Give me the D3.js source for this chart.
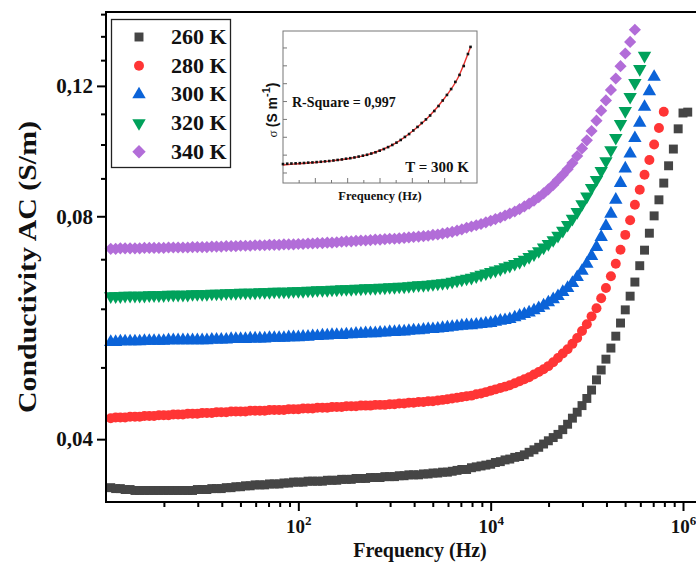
<!DOCTYPE html>
<html>
<head>
<meta charset="utf-8">
<script src="https://cdn.jsdelivr.net/npm/d3@7/dist/d3.min.js"></script>
<style>
  html, body { margin: 0; padding: 0; background: #fff; }
  svg { display: block; font-family: "Liberation Serif", "Times New Roman", serif; }
</style>
</head>
<body>
<svg id="chart" width="696" height="563"></svg>
<script>
// measurement frequencies (Hz), shared by every temperature
const freq = [
  1.12, 1.26, 1.41, 1.58, 1.78, 2.00, 2.24, 2.51, 2.82, 3.16, 3.55, 3.98, 4.47, 5.01, 5.62, 6.31, 7.08, 7.94, 8.91, 10,
  11.2, 12.6, 14.1, 15.8, 17.8, 20.0, 22.4, 25.1, 28.2, 31.6, 35.5, 39.8, 44.7, 50.1, 56.2, 63.1, 70.8, 79.4, 89.1, 100,
  112, 126, 141, 158, 178, 200, 224, 251, 282, 316, 355, 398, 447, 501, 562, 631, 708, 794, 891, 1000,
  1120, 1260, 1410, 1580, 1780, 2000, 2240, 2510, 2820, 3160, 3550, 3980, 4470, 5010, 5620, 6310, 7080, 7940, 8910, 10000,
  11200, 12600, 14100, 15800, 17800, 20000, 22400, 25100, 28200, 31600, 35500, 39800, 44700, 50100, 56200, 63100, 70800, 79400, 89100, 100000,
  112000, 126000, 141000, 158000, 178000, 200000, 224000, 251000, 282000, 316000, 355000, 398000, 447000, 501000, 562000, 631000, 708000, 794000, 891000, 1000000,
  1120000
];

// AC conductivity (S/m) per temperature
const sigma260 = [
  0.0344, 0.0343, 0.0343, 0.0342, 0.0342, 0.0341, 0.0341, 0.0341, 0.0341, 0.0341,
  0.0341, 0.0341, 0.0341, 0.0341, 0.0341, 0.0341, 0.0341, 0.0341, 0.0342, 0.0342,
  0.0342, 0.0343, 0.0343, 0.0343, 0.0344, 0.0344, 0.0345, 0.0345, 0.0346, 0.0346,
  0.0347, 0.0347, 0.0347, 0.0348, 0.0348, 0.0348, 0.0349, 0.0349, 0.0350, 0.0350,
  0.0350, 0.0351, 0.0351, 0.0351, 0.0351, 0.0352, 0.0352, 0.0352, 0.0353, 0.0353,
  0.0353, 0.0354, 0.0354, 0.0354, 0.0355, 0.0355, 0.0355, 0.0356, 0.0356, 0.0356,
  0.0357, 0.0357, 0.0358, 0.0358, 0.0358, 0.0359, 0.0359, 0.0360, 0.0360, 0.0361,
  0.0361, 0.0362, 0.0363, 0.0364, 0.0364, 0.0366, 0.0367, 0.0368, 0.0369, 0.0370,
  0.0372, 0.0373, 0.0375, 0.0376, 0.0378, 0.0379, 0.0381, 0.0384, 0.0387, 0.0390,
  0.0394, 0.0398, 0.0402, 0.0406, 0.0412, 0.0419, 0.0427, 0.0435, 0.0444, 0.0454,
  0.0466, 0.0481, 0.0496, 0.0513, 0.0531, 0.0551, 0.0574, 0.0598, 0.0624, 0.0652,
  0.0686, 0.0720, 0.0759, 0.0801, 0.0842, 0.0887, 0.0936, 0.0986, 0.1050, 0.1103,
  0.1106
];
const sigma280 = [
  0.0427, 0.0428, 0.0428, 0.0428, 0.0429, 0.0429, 0.0429, 0.0430, 0.0430, 0.0430,
  0.0431, 0.0431, 0.0431, 0.0432, 0.0432, 0.0432, 0.0433, 0.0433, 0.0433, 0.0434,
  0.0434, 0.0434, 0.0435, 0.0435, 0.0435, 0.0436, 0.0436, 0.0436, 0.0436, 0.0437,
  0.0437, 0.0437, 0.0437, 0.0438, 0.0438, 0.0438, 0.0438, 0.0439, 0.0439, 0.0439,
  0.0440, 0.0440, 0.0440, 0.0441, 0.0441, 0.0441, 0.0442, 0.0442, 0.0442, 0.0443,
  0.0443, 0.0443, 0.0444, 0.0444, 0.0444, 0.0445, 0.0445, 0.0445, 0.0446, 0.0446,
  0.0447, 0.0447, 0.0448, 0.0448, 0.0449, 0.0449, 0.0450, 0.0450, 0.0451, 0.0452,
  0.0453, 0.0454, 0.0455, 0.0456, 0.0457, 0.0458, 0.0460, 0.0461, 0.0463, 0.0465,
  0.0467, 0.0469, 0.0471, 0.0473, 0.0476, 0.0479, 0.0482, 0.0485, 0.0489, 0.0493,
  0.0497, 0.0502, 0.0508, 0.0515, 0.0522, 0.0529, 0.0538, 0.0548, 0.0560, 0.0572,
  0.0586, 0.0601, 0.0620, 0.0640, 0.0664, 0.0690, 0.0721, 0.0755, 0.0790, 0.0829,
  0.0869, 0.0910, 0.0953, 0.1000, 0.1053, 0.1107
];
const sigma300 = [
  0.0541, 0.0541, 0.0542, 0.0542, 0.0542, 0.0542, 0.0542, 0.0543, 0.0543, 0.0543,
  0.0543, 0.0543, 0.0544, 0.0544, 0.0544, 0.0544, 0.0544, 0.0544, 0.0544, 0.0544,
  0.0544, 0.0545, 0.0545, 0.0545, 0.0545, 0.0546, 0.0546, 0.0546, 0.0546, 0.0547,
  0.0547, 0.0547, 0.0547, 0.0548, 0.0548, 0.0548, 0.0548, 0.0549, 0.0549, 0.0549,
  0.0550, 0.0550, 0.0551, 0.0551, 0.0552, 0.0552, 0.0553, 0.0553, 0.0553, 0.0554,
  0.0554, 0.0555, 0.0555, 0.0556, 0.0556, 0.0556, 0.0557, 0.0557, 0.0558, 0.0558,
  0.0559, 0.0559, 0.0560, 0.0561, 0.0561, 0.0562, 0.0563, 0.0563, 0.0564, 0.0565,
  0.0566, 0.0567, 0.0568, 0.0569, 0.0570, 0.0570, 0.0571, 0.0572, 0.0573, 0.0574,
  0.0576, 0.0578, 0.0579, 0.0581, 0.0584, 0.0587, 0.0590, 0.0593, 0.0597, 0.0601,
  0.0606, 0.0612, 0.0618, 0.0624, 0.0632, 0.0640, 0.0650, 0.0662, 0.0675, 0.0690,
  0.0707, 0.0727, 0.0750, 0.0776, 0.0806, 0.0842, 0.0887, 0.0928, 0.0972, 0.1020,
  0.1070, 0.1124, 0.1180, 0.1234
];
const sigma320 = [
  0.0624, 0.0624, 0.0624, 0.0625, 0.0625, 0.0625, 0.0625, 0.0625, 0.0626, 0.0626,
  0.0626, 0.0626, 0.0627, 0.0627, 0.0627, 0.0627, 0.0627, 0.0628, 0.0628, 0.0628,
  0.0628, 0.0629, 0.0629, 0.0629, 0.0630, 0.0630, 0.0630, 0.0631, 0.0631, 0.0631,
  0.0631, 0.0632, 0.0632, 0.0632, 0.0633, 0.0633, 0.0633, 0.0633, 0.0634, 0.0634,
  0.0634, 0.0635, 0.0635, 0.0636, 0.0636, 0.0636, 0.0637, 0.0637, 0.0638, 0.0638,
  0.0638, 0.0639, 0.0639, 0.0640, 0.0640, 0.0640, 0.0641, 0.0641, 0.0642, 0.0642,
  0.0643, 0.0643, 0.0644, 0.0645, 0.0646, 0.0646, 0.0647, 0.0648, 0.0649, 0.0650,
  0.0651, 0.0653, 0.0655, 0.0657, 0.0659, 0.0661, 0.0664, 0.0667, 0.0670, 0.0673,
  0.0676, 0.0679, 0.0683, 0.0686, 0.0690, 0.0694, 0.0699, 0.0705, 0.0711, 0.0718,
  0.0726, 0.0734, 0.0743, 0.0753, 0.0765, 0.0779, 0.0794, 0.0811, 0.0831, 0.0851,
  0.0874, 0.0896, 0.0921, 0.0950, 0.0983, 0.1021, 0.1066, 0.1110, 0.1160, 0.1211,
  0.1265, 0.1318
];
const sigma340 = [
  0.0723, 0.0723, 0.0724, 0.0724, 0.0724, 0.0724, 0.0724, 0.0725, 0.0725, 0.0725,
  0.0725, 0.0725, 0.0726, 0.0726, 0.0726, 0.0726, 0.0726, 0.0727, 0.0727, 0.0727,
  0.0727, 0.0728, 0.0728, 0.0728, 0.0729, 0.0729, 0.0729, 0.0730, 0.0730, 0.0730,
  0.0731, 0.0731, 0.0731, 0.0732, 0.0732, 0.0732, 0.0733, 0.0733, 0.0733, 0.0734,
  0.0734, 0.0735, 0.0735, 0.0736, 0.0736, 0.0737, 0.0737, 0.0738, 0.0739, 0.0740,
  0.0740, 0.0741, 0.0742, 0.0742, 0.0743, 0.0744, 0.0744, 0.0745, 0.0746, 0.0746,
  0.0747, 0.0748, 0.0749, 0.0750, 0.0751, 0.0752, 0.0753, 0.0755, 0.0756, 0.0758,
  0.0760, 0.0762, 0.0765, 0.0768, 0.0772, 0.0775, 0.0778, 0.0781, 0.0785, 0.0789,
  0.0793, 0.0797, 0.0802, 0.0807, 0.0812, 0.0818, 0.0825, 0.0832, 0.0840, 0.0849,
  0.0859, 0.0870, 0.0882, 0.0896, 0.0910, 0.0926, 0.0944, 0.0965, 0.0988, 0.1013,
  0.1043, 0.1077, 0.1111, 0.1147, 0.1185, 0.1228, 0.1276, 0.1327, 0.1376, 0.1429
];

const seriesLabels = ["260 K", "280 K", "300 K", "320 K", "340 K"];
const seriesValues = [sigma260, sigma280, sigma300, sigma320, sigma340];

// axis ticks
const xMajorTicks = [1e2, 1e4, 1e6];
const xMinorTicks = [4, 9, 16, 25, 36, 49, 64, 81,
  400, 900, 1600, 2500, 3600, 4900, 6400, 8100,
  40000, 90000, 160000, 250000, 360000, 490000, 640000, 810000];
const yMajorTicks = [0.04, 0.08, 0.12];
const yMinorTicks = [0.05, 0.06, 0.07, 0.09, 0.10, 0.11, 0.13, 0.14, 0.15];

// inset: 300 K fit (frequency in kHz, linear axes)
const insetFreq = [0, 13, 26, 39, 52, 65, 78, 91, 104, 117, 130, 143, 156, 169, 182, 195, 208, 221, 234, 247,
  260, 273, 286, 299, 312, 325, 338, 351, 364, 377, 390, 403, 416, 429, 442, 455, 468, 481, 494, 507,
  520, 533, 546, 559, 572, 580];
const insetSigma = [0.0650, 0.0652, 0.0653, 0.0654, 0.0655, 0.0656, 0.0658, 0.0659, 0.0661, 0.0663,
  0.0665, 0.0667, 0.0670, 0.0673, 0.0676, 0.0680, 0.0683, 0.0687, 0.0692, 0.0697,
  0.0702, 0.0709, 0.0716, 0.0725, 0.0734, 0.0745, 0.0757, 0.0770, 0.0785, 0.0802,
  0.0818, 0.0838, 0.0858, 0.0880, 0.0900, 0.0922, 0.0947, 0.0975, 0.1006, 0.1037,
  0.1070, 0.1110, 0.1149, 0.1199, 0.1266, 0.1306];
const fitFreq = [0, 50, 100, 150, 200, 250, 300, 350, 400, 450, 500, 540, 580];
const fitSigma = [0.0645, 0.0652, 0.0659, 0.0668, 0.0680, 0.0697, 0.0726, 0.0769, 0.0834, 0.0914, 0.1020, 0.1129, 0.1306];
const insetYTicks = [0.06, 0.07, 0.08, 0.09, 0.10, 0.11, 0.12, 0.13];
const insetXTicks = [50, 100, 150, 200, 250, 300, 350, 400, 450, 500, 550];

// styles
const colors = ["#454545", "#ff3535", "#0b63d8", "#00a15b", "#b26dd8"];
const shapes = ["square", "circle", "triangle", "triangleDown", "diamond"];

const svg = d3.select("#chart");

// scales
const xScale = d3.scaleLog().domain([1, 1e6]).range([106, 683]);
const yScale = d3.scaleLog().domain([0.0329, 0.151]).range([502, 12]);

function symbolPath(shape) {
  if (shape === "square") return d3.symbol().type(d3.symbolSquare).size(80)();
  if (shape === "circle") return d3.symbol().type(d3.symbolCircle).size(78)();
  if (shape === "diamond") return d3.symbol().type(d3.symbolSquare).size(74)();
  return d3.symbol().type(d3.symbolTriangle).size(78)();
}
function symbolRotate(shape) {
  if (shape === "triangleDown") return " rotate(180)";
  if (shape === "diamond") return " rotate(45)";
  return "";
}

// data markers
const plot = svg.append("g");
seriesValues.forEach((vals, i) => {
  const pts = vals.map((v, j) => ({f: freq[j], s: v}));
  plot.append("g")
    .selectAll("path")
    .data(pts)
    .enter()
    .append("path")
    .attr("d", symbolPath(shapes[i]))
    .attr("transform", d => `translate(${xScale(d.f)},${yScale(d.s)})` + symbolRotate(shapes[i]))
    .attr("fill", colors[i]);
});

// frame lines
svg.append("line").attr("x1", 105).attr("x2", 696).attr("y1", 12).attr("y2", 12)
  .attr("stroke", "#000").attr("stroke-width", 2);
svg.append("line").attr("x1", 105).attr("x2", 696).attr("y1", 502).attr("y2", 502)
  .attr("stroke", "#000").attr("stroke-width", 2);
svg.append("line").attr("x1", 106).attr("x2", 106).attr("y1", 11).attr("y2", 503)
  .attr("stroke", "#000").attr("stroke-width", 2);

// y axis ticks
const yAxis = svg.append("g").attr("transform", "translate(106,0)")
  .call(d3.axisLeft(yScale).tickValues(yMajorTicks).tickSize(9).tickSizeOuter(0)
    .tickFormat(d => d.toFixed(2).replace(".", ",")));
yAxis.select(".domain").remove();
yAxis.selectAll("line").attr("stroke", "#000").attr("stroke-width", 2);
yAxis.selectAll("text")
  .attr("x", -13)
  .attr("font-family", "Liberation Serif")
  .attr("font-weight", "bold")
  .attr("font-size", 21)
  .attr("fill", "#111");

const yMinor = svg.append("g").attr("transform", "translate(106,0)")
  .call(d3.axisLeft(yScale).tickValues(yMinorTicks).tickSize(5).tickSizeOuter(0).tickFormat(""));
yMinor.select(".domain").remove();
yMinor.selectAll("line").attr("stroke", "#000").attr("stroke-width", 2);

// x axis ticks
const xAxis = svg.append("g").attr("transform", "translate(0,502)")
  .call(d3.axisBottom(xScale).tickValues(xMajorTicks).tickSize(9).tickSizeOuter(0).tickFormat(""));
xAxis.select(".domain").remove();
xAxis.selectAll("line").attr("stroke", "#000").attr("stroke-width", 2);
xAxis.selectAll(".tick").append("text")
  .attr("y", 31)
  .attr("text-anchor", "middle")
  .attr("fill", "#111")
  .attr("font-family", "Liberation Serif")
  .attr("font-weight", "bold")
  .attr("font-size", 19)
  .each(function(d) {
    const t = d3.select(this);
    t.append("tspan").text("10");
    t.append("tspan").attr("dy", -8).attr("font-size", 13).text(Math.round(Math.log10(d)));
  });

const xMinor = svg.append("g").attr("transform", "translate(0,502)")
  .call(d3.axisBottom(xScale).tickValues(xMinorTicks).tickSize(5).tickSizeOuter(0).tickFormat(""));
xMinor.select(".domain").remove();
xMinor.selectAll("line").attr("stroke", "#000").attr("stroke-width", 2);

// axis titles
svg.append("text")
  .attr("transform", "translate(36,267) rotate(-90)")
  .attr("text-anchor", "middle")
  .attr("font-weight", "bold")
  .attr("font-size", 26)
  .attr("textLength", 292)
  .attr("lengthAdjust", "spacingAndGlyphs")
  .attr("fill", "#111")
  .text("Conductivity AC (S/m)");

svg.append("text")
  .attr("x", 420)
  .attr("y", 557)
  .attr("text-anchor", "middle")
  .attr("font-weight", "bold")
  .attr("font-size", 20)
  .attr("fill", "#111")
  .text("Frequency (Hz)");

// legend
const legend = svg.append("g");
legend.append("rect")
  .attr("x", 111.5).attr("y", 19.5).attr("width", 119).attr("height", 148)
  .attr("fill", "#fff").attr("stroke", "#222").attr("stroke-width", 1.3);
seriesLabels.forEach((lab, i) => {
  const cy = 37 + i * 28.7;
  legend.append("path")
    .attr("d", symbolPath(shapes[i]))
    .attr("transform", `translate(139,${cy})` + symbolRotate(shapes[i]) + (shapes[i] === "diamond" ? " scale(1.1)" : ""))
    .attr("fill", colors[i]);
  legend.append("text")
    .attr("x", 171)
    .attr("y", cy + 7)
    .attr("font-weight", "bold")
    .attr("font-size", 22)
    .attr("fill", "#111")
    .text(lab);
});

// inset
const inset = svg.append("g");
const ix = d3.scaleLinear().domain([0, 600]).range([283, 477]);
const iy = d3.scaleLinear().domain([0.0544, 0.1395]).range([183, 31]);

inset.append("rect")
  .attr("x", 283).attr("y", 31).attr("width", 194).attr("height", 152)
  .attr("fill", "#fff").attr("stroke", "#777").attr("stroke-width", 1);

inset.selectAll(".iyt").data(insetYTicks).enter().append("line")
  .attr("x1", 283).attr("x2", 287)
  .attr("y1", d => iy(d)).attr("y2", d => iy(d))
  .attr("stroke", "#777");
inset.selectAll(".ixt").data(insetXTicks).enter().append("line")
  .attr("x1", d => ix(d)).attr("x2", d => ix(d))
  .attr("y1", 183).attr("y2", (d, i) => i % 2 === 1 ? 178 : 180)
  .attr("stroke", "#777");

inset.append("path")
  .datum(fitFreq.map((f, i) => [f, fitSigma[i]]))
  .attr("d", d3.line().x(d => ix(d[0])).y(d => iy(d[1])).curve(d3.curveMonotoneX))
  .attr("fill", "none")
  .attr("stroke", "#e8322f")
  .attr("stroke-width", 1.4);

inset.selectAll(".dot").data(insetFreq.map((f, i) => [f, insetSigma[i]])).enter().append("rect")
  .attr("x", d => ix(d[0]) - 1.3)
  .attr("y", d => iy(d[1]) - 1.3)
  .attr("width", 2.6).attr("height", 2.6)
  .attr("fill", "#111");

inset.append("text")
  .attr("x", 292).attr("y", 107)
  .attr("font-weight", "bold").attr("font-size", 14).attr("fill", "#111")
  .text("R-Square = 0,997");
inset.append("text")
  .attr("x", 469).attr("y", 172)
  .attr("text-anchor", "end")
  .attr("font-weight", "bold").attr("font-size", 15).attr("fill", "#111")
  .text("T = 300 K");
inset.append("text")
  .attr("x", 380).attr("y", 200)
  .attr("text-anchor", "middle")
  .attr("font-weight", "bold").attr("font-size", 12.5).attr("fill", "#111")
  .text("Frequency (Hz)");

const iyLabel = inset.append("text")
  .attr("transform", "translate(277,110) rotate(-90)")
  .attr("text-anchor", "middle")
  .attr("fill", "#111");
iyLabel.append("tspan").attr("font-size", 13).text("σ ");
iyLabel.append("tspan").attr("font-family", "Liberation Sans").attr("font-weight", "bold").attr("font-size", 14).text("(S m");
iyLabel.append("tspan").attr("font-family", "Liberation Sans").attr("font-weight", "bold").attr("font-size", 11).attr("dy", -7).text("-1");
iyLabel.append("tspan").attr("font-family", "Liberation Sans").attr("font-weight", "bold").attr("font-size", 14).attr("dy", 7).text(")");
</script>
</body>
</html>
